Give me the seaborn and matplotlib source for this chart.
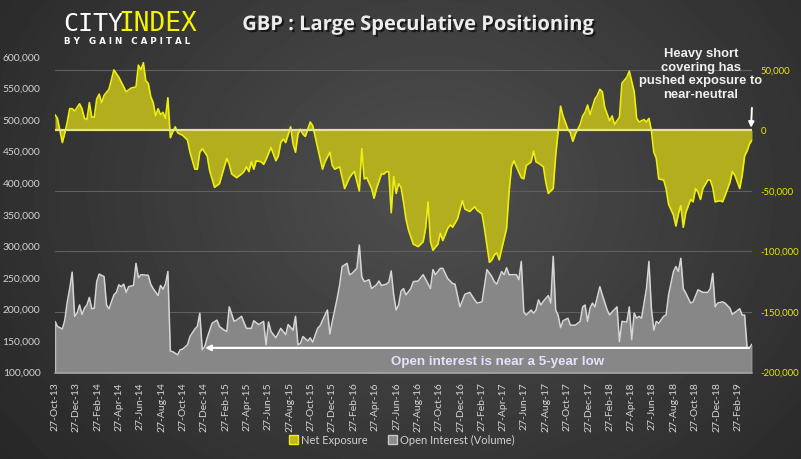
"""GBP large speculative positioning: net exposure vs open interest (CFTC style chart)."""

import matplotlib

matplotlib.use("Agg")

import matplotlib.dates as mdates
import matplotlib.patheffects as pe
import matplotlib.pyplot as plt
import numpy as np
import pandas as pd
import seaborn as sns
from matplotlib.patches import Patch
from matplotlib.ticker import FixedLocator, FuncFormatter

START = pd.Timestamp("2013-10-27")

# weeks since START, net exposure in thousands of contracts
net_weeks = [
    0, 1, 3, 4, 5, 6, 7, 8, 10, 11, 12, 13, 14, 15, 16, 17, 18, 19, 20, 22,
    24, 26, 29, 31, 33, 34, 35, 36, 37, 38, 39, 40, 41, 42, 43, 44, 45, 46, 47, 48,
    49, 50, 52, 54, 55, 57, 58, 59, 60, 62, 63, 65, 67, 68, 70, 71, 72, 74, 76, 77,
    78, 79, 80, 81, 82, 84, 85, 86, 88, 90, 91, 92, 93, 94, 96, 97, 98, 99, 100, 101,
    102, 104, 105, 106, 108, 109, 110, 112, 113, 114, 116, 118, 120, 121, 122, 124, 125, 126, 127, 129,
    130, 131, 133, 134, 135, 136, 137, 138, 139, 140, 141, 142, 143, 144, 146, 148, 150, 151, 152, 153,
    154, 156, 157, 158, 160, 161, 162, 164, 166, 167, 169, 171, 172, 174, 175, 177, 178, 179, 180, 181,
    182, 184, 185, 186, 187, 188, 190, 191, 192, 194, 195, 196, 197, 199, 200, 201, 203, 204, 205, 206,
    207, 209, 210, 211, 212, 213, 214, 215, 216, 217, 218, 220, 221, 222, 223, 224, 226, 227, 228, 230,
    231, 233, 234, 236, 237, 238, 240, 241, 242, 243, 244, 245, 246, 248, 249, 250, 252, 253, 254, 255,
    256, 257, 259, 260, 261, 262, 263, 264, 266, 267, 268, 269, 271, 272, 273, 275, 276, 277, 279, 280,
    281, 282, 283, 284,
]
net_k = [
    13, 10, -10, -2, 7, 18, 18, 16, 22, 18, 10, 9, 23, 11, 11, 26, 30, 23, 29, 34,
    50, 44, 32, 35, 36, 54, 50, 56, 41, 39, 28, 23, 12, 18, 13, 15, 10, 27, -6, -1,
    3, -2, -4, -8, -18, -32, -32, -18, -15, -21, -33, -47, -44, -37, -23, -28, -36, -39, -36, -34,
    -30, -34, -26, -32, -25, -26, -28, -24, -14, -25, -21, -10, -7, -10, 3, -11, -18, -3, 1, -3,
    -5, 7, 4, -5, -23, -32, -26, -18, -29, -32, -30, -48, -39, -36, -34, -50, -15, -40, -39, -48,
    -56, -48, -36, -36, -34, -34, -68, -38, -52, -44, -47, -59, -73, -82, -94, -96, -92, -81, -59, -92,
    -99, -94, -85, -91, -81, -78, -80, -73, -58, -65, -67, -63, -66, -69, -81, -109, -107, -103, -101, -107,
    -98, -81, -51, -30, -25, -30, -39, -40, -29, -26, -17, -26, -27, -30, -43, -52, -48, -21, -1, 20,
    12, 1, -2, -9, -3, 1, 5, 12, 15, 21, 13, 26, 29, 34, 32, 19, 8, 12, 5, 11,
    39, 44, 49, 32, 10, 7, 9, 7, 10, 0, -18, -23, -40, -41, -48, -61, -70, -79, -69, -62,
    -80, -68, -57, -59, -48, -51, -57, -48, -41, -41, -47, -59, -58, -59, -54, -43, -34, -37, -48, -37,
    -21, -17, -11, -8,
]

# weeks since START, open interest in thousands of contracts
oi_weeks = [
    0, 1, 3, 4, 5, 6, 7, 8, 9, 10, 11, 12, 13, 14, 15, 16, 17, 18, 20, 21,
    22, 24, 25, 26, 27, 28, 29, 30, 32, 33, 34, 35, 38, 39, 40, 42, 43, 44, 45, 46,
    47, 48, 50, 51, 52, 54, 55, 57, 58, 59, 60, 61, 62, 64, 66, 67, 69, 70, 71, 73,
    74, 76, 78, 80, 81, 83, 85, 86, 87, 88, 90, 92, 94, 95, 97, 98, 99, 100, 101, 103,
    104, 105, 107, 108, 110, 111, 112, 113, 115, 116, 117, 119, 120, 121, 123, 124, 125, 126, 128, 129,
    131, 132, 133, 135, 136, 137, 138, 139, 140, 141, 142, 143, 145, 146, 148, 150, 151, 153, 154, 155,
    157, 158, 160, 162, 163, 165, 167, 169, 171, 172, 174, 176, 178, 179, 180, 182, 183, 184, 185, 188,
    189, 190, 191, 192, 194, 195, 196, 197, 198, 199, 201, 202, 203, 204, 205, 206, 207, 209, 210, 212,
    214, 215, 216, 217, 218, 219, 220, 222, 223, 225, 226, 227, 229, 230, 231, 233, 234, 235, 236, 237,
    238, 239, 241, 242, 243, 244, 245, 246, 248, 249, 250, 252, 253, 254, 255, 256, 257, 259, 260, 262,
    264, 266, 267, 268, 269, 270, 272, 273, 275, 276, 278, 279, 280, 281, 282, 283, 284,
]
oi_k = [
    181, 173, 169, 183, 212, 233, 259, 189, 194, 207, 192, 202, 207, 219, 201, 202, 244, 256, 252, 207,
    201, 223, 227, 239, 236, 240, 227, 236, 238, 273, 250, 255, 254, 240, 233, 222, 238, 232, 240, 260,
    134, 133, 128, 136, 137, 144, 157, 169, 173, 194, 136, 141, 155, 178, 183, 173, 167, 165, 204, 181,
    183, 189, 170, 170, 182, 176, 181, 144, 180, 165, 155, 170, 160, 176, 167, 189, 144, 146, 157, 150,
    155, 148, 170, 174, 191, 199, 161, 181, 218, 239, 268, 273, 255, 257, 265, 302, 252, 244, 247, 233,
    239, 245, 238, 240, 243, 261, 223, 199, 207, 229, 233, 223, 233, 244, 245, 255, 248, 233, 263, 255,
    265, 265, 249, 241, 240, 204, 224, 227, 215, 210, 212, 263, 252, 244, 240, 260, 255, 266, 255, 255,
    247, 276, 196, 191, 199, 194, 199, 215, 207, 213, 222, 210, 284, 199, 191, 171, 182, 186, 175, 175,
    181, 204, 207, 181, 202, 210, 204, 236, 223, 199, 191, 196, 204, 149, 181, 180, 204, 152, 194, 186,
    189, 186, 233, 276, 202, 167, 181, 178, 189, 191, 223, 260, 268, 260, 281, 233, 226, 210, 212, 231,
    227, 227, 233, 257, 204, 210, 212, 210, 202, 192, 198, 201, 191, 191, 139, 139, 145,
]

net_dates = START + pd.to_timedelta(np.array(net_weeks) * 7, unit="D")
net_vals = np.array(net_k) * 1000.0
oi_dates = START + pd.to_timedelta(np.array(oi_weeks) * 7, unit="D")
oi_vals = np.array(oi_k) * 1000.0

oi_ticks = list(range(100000, 600001, 50000))
net_ticks = list(range(-200000, 50001, 50000))

NET_FILL = "#b2ae1e"
NET_LINE = "#eeee10"
OI_FILL = "#878787"
OI_LINE = "#d6d6d6"

sns.set_theme(style="dark")
plt.rcParams["font.family"] = ["Lato", "DejaVu Sans"]

fig = plt.figure(figsize=(8.01, 4.59), dpi=100)

# dark radial background
h, w = 459, 801
yy, xx = np.mgrid[0:h, 0:w]
r = np.sqrt(((xx - 430) / 520.0) ** 2 + ((yy - 190) / 420.0) ** 2)
shade = np.clip(0.31 - 0.15 * r, 0, 1)
bg = fig.add_axes([0, 0, 1, 1], zorder=-10)
bg.imshow(shade, cmap="gray", vmin=0, vmax=1, aspect="auto", extent=(0, 1, 0, 1))
bg.axis("off")

ax = fig.add_axes([55 / 801, 1 - 372.5 / 459, 697 / 801, 315.5 / 459])
ax2 = ax.twinx()
ax.set_zorder(2)
ax2.set_zorder(1)
for a in (ax, ax2):
    a.patch.set_visible(False)
    for s in a.spines.values():
        s.set_visible(False)
    a.grid(False)

# net exposure (right axis)
ax2.set_ylim(-200000, 60700)
for t in net_ticks:
    if t != 0:
        ax2.axhline(t, color="#5f5f5f", lw=0.8, zorder=0)
ax2.fill_between(net_dates, net_vals, 0, color=NET_FILL, lw=0, zorder=1)
sns.lineplot(x=net_dates, y=net_vals, ax=ax2, color=NET_LINE, lw=1.2, zorder=2)
ax2.axhline(0, color="#e4e48a", lw=1.6, zorder=3)

# open interest (left axis)
ax.set_ylim(100000, 600000)
ax.fill_between(oi_dates, oi_vals, 100000, color=OI_FILL, lw=0, zorder=1)
sns.lineplot(x=oi_dates, y=oi_vals, ax=ax, color=OI_LINE, lw=1.1, zorder=2)
ax.vlines([oi_dates[0], oi_dates[-1]], 100000, [oi_vals[0], oi_vals[-1]], color="#bdbdbd", lw=1)
ax.axhline(100000, color="#a8a8a8", lw=1.2, clip_on=False, zorder=3)

ax.set_xlim(oi_dates[0], oi_dates[-1])
ax.xaxis.set_major_locator(mdates.MonthLocator(bymonth=(2, 4, 6, 8, 10, 12), bymonthday=27))
ax.xaxis.set_major_formatter(mdates.DateFormatter("%d-%b-%y"))
ax.set_xlabel("")
ax.set_ylabel("")
ax2.set_ylabel("")

fmt = FuncFormatter(lambda v, _: f"{v:,.0f}")
ax.yaxis.set_major_locator(FixedLocator(oi_ticks))
ax.yaxis.set_major_formatter(fmt)
ax2.yaxis.set_major_locator(FixedLocator(net_ticks))
ax2.yaxis.set_major_formatter(fmt)

ax.tick_params(axis="x", length=0, pad=7, labelsize=7.5, labelcolor="#d4d4d4", rotation=90)
ax.tick_params(axis="y", length=0, pad=10.5, labelsize=7.4, labelcolor="#d4d4d4")
ax2.tick_params(axis="y", length=0, pad=6.2, labelsize=6.8, labelcolor="#e8e800")

# annotations
ax.annotate(
    "",
    xy=(oi_dates[50], oi_vals[-3]),
    xytext=(oi_dates[-1], oi_vals[-3]),
    arrowprops=dict(arrowstyle="-|>", color="white", lw=1.6, mutation_scale=8),
    zorder=5,
)
fig.text(
    498 / 801, 1 - 362 / 459, "Open interest is near a 5-year low",
    ha="center", va="center", fontsize=9.6, fontweight="bold",
    color="#e2e2ff", family="Liberation Sans",
)
ax2.annotate(
    "",
    xy=(net_dates[-1] - pd.Timedelta(days=3), 0),
    xytext=(net_dates[-1], 21000),
    arrowprops=dict(arrowstyle="-|>", color="white", lw=1.4, mutation_scale=8),
    zorder=6,
)
fig.text(
    701 / 801, 1 - 74.5 / 459, "Heavy short\ncovering has\npushed exposure to\nnear-neutral",
    ha="center", va="center", fontsize=9.4, fontweight="bold", color="#f0f0f0",
    family="Liberation Sans", linespacing=1.22,
)

# title and logo
fig.text(
    418 / 801, 1 - 25 / 459, "GBP : Large Speculative Positioning",
    ha="center", va="center", fontsize=14.5, fontweight="bold", color="#ececec",
    family="Open Sans",
    path_effects=[pe.withSimplePatchShadow(offset=(1.5, -1.5), shadow_rgbFace="black", alpha=0.6)],
)
fig.text(63 / 801, 1 - 24 / 459, "CITY", ha="left", va="center", fontsize=18,
         color="white", family="DejaVu Sans Mono")
fig.text(118 / 801, 1 - 24 / 459, "INDEX", ha="left", va="center", fontsize=18.8,
         color="#f4f400", family="DejaVu Sans Mono")
fig.text(64 / 801, 1 - 42 / 459, "B Y   G A I N   C A P I T A L", ha="left", va="center",
         fontsize=6.3, color="white", fontweight="bold", family="DejaVu Sans")

handles = [
    Patch(facecolor="#bdb824", edgecolor="#f0f000", lw=1),
    Patch(facecolor="#8c8c8c", edgecolor="#c8c8c8", lw=1),
]
fig.legend(
    handles, ["Net Exposure", "Open Interest (Volume)"],
    loc="center", bbox_to_anchor=(0.502, 1 - 440 / 459), ncol=2, frameon=False,
    fontsize=8, labelcolor="#d0d0d0", handlelength=0.8, handleheight=0.8,
    handletextpad=0.3, columnspacing=1.8,
)

fig.savefig("out.png", dpi=100)
